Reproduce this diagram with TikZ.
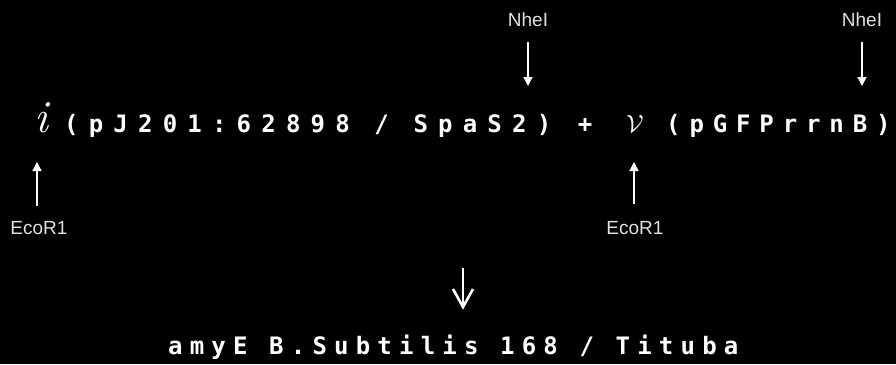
\documentclass[tikz,border=0pt]{standalone}
\usepackage{fontspec}
\usetikzlibrary{arrows.meta}
\newfontfamily\pixmain[LetterSpace=42.5]{DejaVu Sans Mono}
\newfontfamily\pixsec[LetterSpace=37]{DejaVu Sans Mono}
\newfontfamily\pixbot[LetterSpace=30]{DejaVu Sans Mono}
\newfontfamily\lab{Liberation Sans}
\begin{document}
\begin{tikzpicture}[x=1pt,y=-1pt,
  lbl/.style={text=black!12!white,font=\lab\fontsize{19}{19}\selectfont,inner sep=0pt},
  seq/.style={text=white,font=\pixmain\bfseries\fontsize{24}{24}\selectfont,inner sep=0pt,anchor=base west},
  big/.style={text=white,font=\fontsize{46}{46}\selectfont,inner sep=0pt,anchor=base},
  arr/.style={draw=white,line width=1.4pt,-{Triangle[width=9pt,length=9pt]}}]
\fill[black] (0,0) rectangle (896,364);
\useasboundingbox (0,0) rectangle (896,364);
% main line
\node[big] (ii) at (41,132) {\itshape i};
\node[seq] (s1) at (64,132) {(pJ201:62898 / SpaS2)};
\node[seq,anchor=base] (plus) at (585,132) {+};
\node[big] (vv) at (635,132) {$\mathcal{V}$};
\node[seq,font=\pixsec\bfseries\fontsize{24}{24}\selectfont] (s2) at (666,132) {(pGFPrrnB)\kern-9pt};
% labels and arrows
\node[lbl] (n1) at (528,20) {NheI};
\coordinate (n1a) at (528,42); \coordinate (n1b) at (528,86);
\draw[arr] (n1a) -- (n1b);
\node[lbl] (n2) at (862,20) {NheI};
\coordinate (n2a) at (862,42); \coordinate (n2b) at (862,86);
\draw[arr] (n2a) -- (n2b);
\node[lbl] (e1) at (39,228) {EcoR1};
\coordinate (e1a) at (37,206); \coordinate (e1b) at (37,162);
\draw[arr] (e1a) -- (e1b);
\node[lbl] (e2) at (635,228) {EcoR1};
\coordinate (e2a) at (634,204); \coordinate (e2b) at (634,162);
\draw[arr] (e2a) -- (e2b);
% down arrow
\coordinate (da) at (463,268); \coordinate (db) at (463,307);
\coordinate (dl) at (453,289); \coordinate (dr) at (473,289);
\draw[white,line width=2.6pt] (da) -- (db);
\draw[white,line width=2.6pt] (dl) -- (db) -- (dr);
% bottom
\node[text=white,font=\pixbot\bfseries\fontsize{24}{24}\selectfont,inner sep=0pt,anchor=base west] (res) at (168,354) {amyE B.Subtilis 168 / Tituba};
\end{tikzpicture}
\end{document}
